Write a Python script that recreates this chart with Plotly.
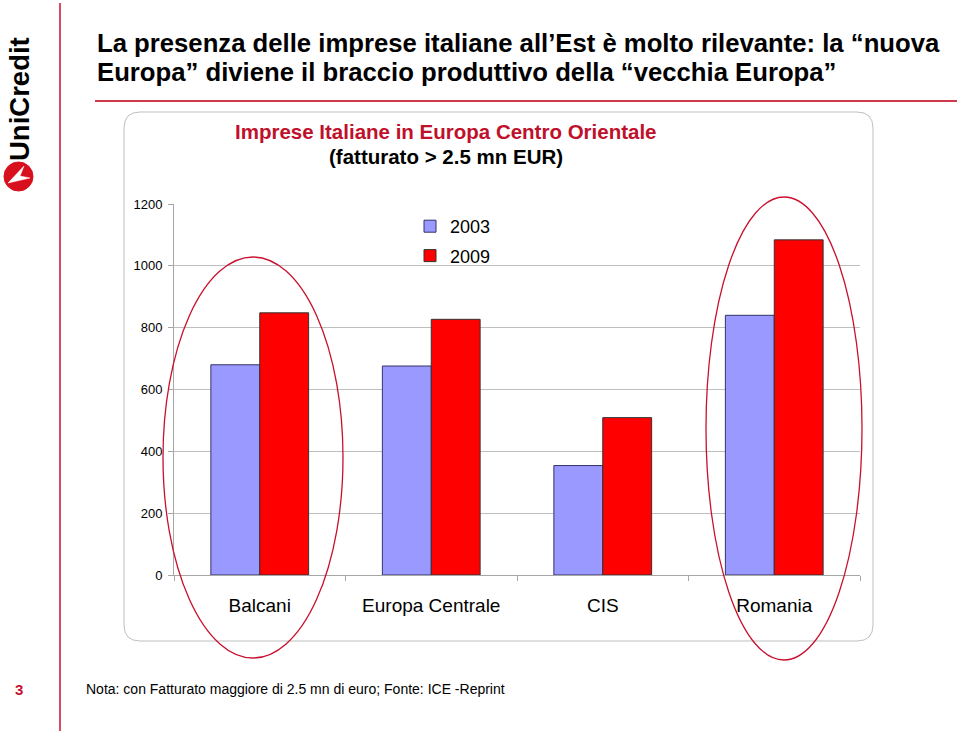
import plotly.graph_objects as go

categories = ["Balcani", "Europa Centrale", "CIS", "Romania"]
series_names = ["2003", "2009"]
values_2003 = [680, 676, 354, 840]
values_2009 = [848, 827, 509, 1084]
y_ticks = [0, 200, 400, 600, 800, 1000, 1200]

W, H = 960, 734
def px(x):
    return x / W
def py(y):
    return 1 - y / H

RED = "#C8102E"
FONT = "Liberation Sans"

fig = go.Figure()
fig.add_trace(go.Bar(name=series_names[0], x=categories, y=values_2003, legendgroup="a",
                     marker=dict(color="#9999FF", line=dict(color="#333366", width=1))))
fig.add_trace(go.Bar(name=series_names[1], x=categories, y=values_2009, legendgroup="b",
                     marker=dict(color="#FF0000", line=dict(color="#333333", width=1))))

fig.update_layout(
    width=W, height=H,
    margin=dict(l=0, r=0, t=0, b=0, pad=0, autoexpand=False),
    paper_bgcolor="white", plot_bgcolor="white",
    barmode="group", bargap=0.43, bargroupgap=0,
    font=dict(family=FONT, color="#000000"),
    showlegend=True,
    legend=dict(x=px(410), y=py(208), xanchor="left", yanchor="top",
                font=dict(size=18, family=FONT), bgcolor="rgba(0,0,0,0)",
                traceorder="grouped", tracegroupgap=3, itemwidth=30),
    xaxis=dict(domain=[px(174), px(860)], showgrid=False, showline=True,
               linecolor="#A6A6A6", ticks="outside", tickson="boundaries",
               ticklen=5, tickcolor="#A6A6A6", ticklabelstandoff=13, automargin=False,
               tickfont=dict(size=19, family=FONT), fixedrange=True),
    yaxis=dict(domain=[py(575), py(204)], range=[0, 1200], tickvals=y_ticks,
               showgrid=True, gridcolor="#BFBFBF", gridwidth=1, automargin=False,
               showline=True, linecolor="#A6A6A6", ticks="outside", ticklen=5,
               tickcolor="#A6A6A6", tickfont=dict(size=13, family=FONT),
               ticklabelstandoff=3, zeroline=False, fixedrange=True),
)

shapes = []
x0, x1, y0, y1, r = 124, 873, 112, 641, 16
path = (f"M {px(x0+r)},{py(y0)} L {px(x1-r)},{py(y0)} Q {px(x1)},{py(y0)} {px(x1)},{py(y0+r)} "
        f"L {px(x1)},{py(y1-r)} Q {px(x1)},{py(y1)} {px(x1-r)},{py(y1)} "
        f"L {px(x0+r)},{py(y1)} Q {px(x0)},{py(y1)} {px(x0)},{py(y1-r)} "
        f"L {px(x0)},{py(y0+r)} Q {px(x0)},{py(y0)} {px(x0+r)},{py(y0)} Z")
shapes.append(dict(type="path", xref="paper", yref="paper", path=path,
                   line=dict(color="#BFBFBF", width=1), layer="below"))
shapes.append(dict(type="circle", xref="paper", yref="paper",
                   x0=px(163), x1=px(343), y0=py(658), y1=py(257),
                   line=dict(color=RED, width=1.3)))
shapes.append(dict(type="circle", xref="paper", yref="paper",
                   x0=px(706), x1=px(862), y0=py(660), y1=py(197),
                   line=dict(color=RED, width=1.3)))
shapes.append(dict(type="line", xref="paper", yref="paper",
                   x0=px(60), x1=px(60), y0=py(3), y1=py(731),
                   line=dict(color=RED, width=1.5)))
shapes.append(dict(type="line", xref="paper", yref="paper",
                   x0=px(95), x1=px(957), y0=py(101), y1=py(101),
                   line=dict(color="#D0384E", width=2)))
shapes.append(dict(type="circle", xref="paper", yref="paper",
                   x0=px(4), x1=px(33), y0=py(191), y1=py(162),
                   fillcolor="#D8101E", line=dict(color="#D8101E", width=1)))
shapes.append(dict(type="path", xref="paper", yref="paper",
                   path=f"M {px(8)},{py(183)} L {px(24)},{py(166)} L {px(20)},{py(176)} L {px(30)},{py(178)} Z",
                   fillcolor="white", line=dict(color="white", width=0.5)))
fig.update_layout(shapes=shapes)

ann = []
ann.append(dict(xref="paper", yref="paper", x=px(95), y=py(43), xanchor="left", yanchor="middle",
                text="La presenza delle imprese italiane all’Est è molto rilevante: la “nuova",
                showarrow=False, font=dict(size=25.7, family=FONT, color="black", weight="bold")))
ann.append(dict(xref="paper", yref="paper", x=px(95), y=py(72), xanchor="left", yanchor="middle",
                text="Europa” diviene il braccio produttivo della “vecchia Europa”",
                showarrow=False, font=dict(size=25.7, family=FONT, color="black", weight="bold")))
ann.append(dict(xref="paper", yref="paper", x=px(446), y=py(131), xanchor="center", yanchor="middle",
                text="Imprese Italiane in Europa Centro Orientale",
                showarrow=False, font=dict(size=20.5, family=FONT, color="#C0102A", weight="bold")))
ann.append(dict(xref="paper", yref="paper", x=px(446), y=py(156), xanchor="center", yanchor="middle",
                text="(fatturato > 2.5 mn EUR)",
                showarrow=False, font=dict(size=20.5, family=FONT, color="black", weight="bold")))
ann.append(dict(xref="paper", yref="paper", x=px(20), y=py(99), xanchor="center", yanchor="middle",
                text="UniCredit", textangle=-90,
                showarrow=False, font=dict(size=27.5, family=FONT, color="black", weight="bold")))
ann.append(dict(xref="paper", yref="paper", x=px(19), y=py(689), xanchor="center", yanchor="middle",
                text="3", showarrow=False, font=dict(size=15, family=FONT, color=RED, weight="bold")))
ann.append(dict(xref="paper", yref="paper", x=px(84), y=py(689), xanchor="left", yanchor="middle",
                text="Nota: con Fatturato maggiore di 2.5 mn di euro; Fonte: ICE -Reprint",
                showarrow=False, font=dict(size=14, family=FONT, color="black")))
fig.update_layout(annotations=ann)

fig.write_html("out.html", post_script="document.body.style.margin='0';",
               config={"displayModeBar": False})
